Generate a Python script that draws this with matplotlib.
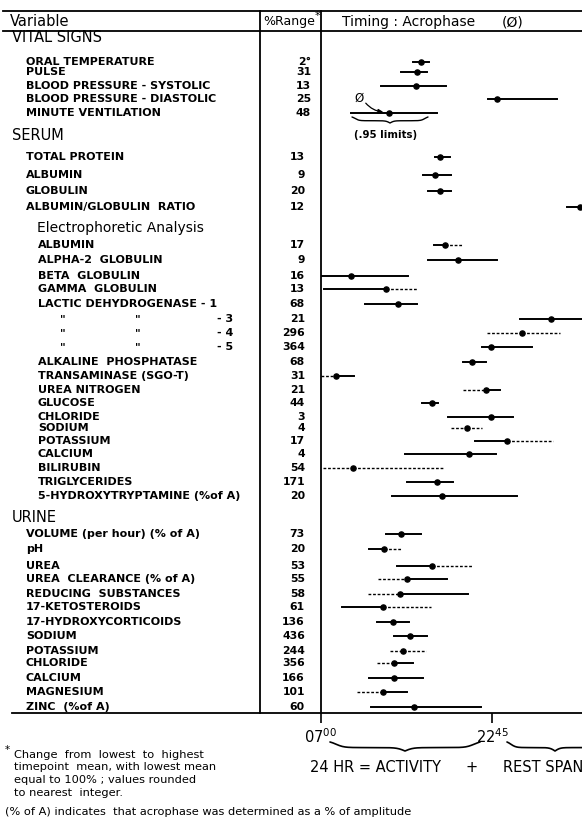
import matplotlib.pyplot as plt
import numpy as np

plt.rcParams['font.family'] = 'DejaVu Sans'

# table rows (headings have no range and no acrophase)
variables = ['VITAL SIGNS', 'ORAL TEMPERATURE', 'PULSE', 'BLOOD PRESSURE - SYSTOLIC',
             'BLOOD PRESSURE - DIASTOLIC', 'MINUTE VENTILATION',
             'SERUM', 'TOTAL PROTEIN', 'ALBUMIN', 'GLOBULIN', 'ALBUMIN/GLOBULIN  RATIO',
             'Electrophoretic Analysis', 'ALBUMIN', 'ALPHA-2  GLOBULIN', 'BETA  GLOBULIN',
             'GAMMA  GLOBULIN', 'LACTIC DEHYDROGENASE - 1', '" " - 3', '" " - 4', '" " - 5',
             'ALKALINE  PHOSPHATASE', 'TRANSAMINASE (SGO-T)', 'UREA NITROGEN', 'GLUCOSE',
             'CHLORIDE', 'SODIUM', 'POTASSIUM', 'CALCIUM', 'BILIRUBIN', 'TRIGLYCERIDES',
             '5-HYDROXYTRYPTAMINE (%of A)',
             'URINE', 'VOLUME (per hour) (% of A)', 'pH', 'UREA', 'UREA  CLEARANCE (% of A)',
             'REDUCING  SUBSTANCES', '17-KETOSTEROIDS', '17-HYDROXYCORTICOIDS', 'SODIUM',
             'POTASSIUM', 'CHLORIDE', 'CALCIUM', 'MAGNESIUM', 'ZINC  (%of A)']

pct_range = ['', '2°', '31', '13', '25', '48',
             '', '13', '9', '20', '12',
             '', '17', '9', '16', '13', '68', '21', '296', '364',
             '68', '31', '21', '44', '3', '4', '17', '4', '54', '171', '20',
             '', '73', '20', '53', '55', '58', '61', '136', '436', '244', '356', '166', '101', '60']

# acrophase and .95 limits, clock hours (values past 24 are after midnight)
nan = np.nan
acrophase = [nan, 16.17, 15.81, 15.72, 23.21, 13.27,
             nan, 17.95, 17.49, 17.95, 30.79,
             nan, 18.41, 19.63, 9.75, 12.99, 14.06, 28.10, 25.44, 22.60,
             20.91, 8.38, 22.14, 17.18, 22.63, 20.46, 24.06, 20.61, 10.00, 17.64, 18.16,
             nan, 14.37, 12.84, 17.18, 14.89, 14.28, 12.75, 13.61, 15.20, 14.52, 13.73, 13.76, 12.69, 15.59]
lim_low = [nan, 15.50, 14.37, 12.53, 22.38, 9.75,
           nan, 17.49, 16.42, 16.88, 29.57,
           nan, 17.40, 16.88, 7.00, 7.34, 11.07, 25.29, 22.29, 21.83,
           20.03, 7.00, 20.09, 16.27, 18.71, 18.93, 21.16, 14.74, 7.18, 14.95, 13.51,
           nan, 12.99, 11.46, 13.97, 12.29, 11.31, 8.93, 12.20, 13.73, 13.36, 12.20, 11.43, 10.30, 11.59]
lim_high = [nan, 16.97, 16.72, 18.50, 28.65, 17.64,
            nan, 18.87, 18.96, 18.96, 31.90,
            nan, 20.09, 23.21, 15.04, 15.87, 15.87, 31.40, 28.96, 26.42,
            22.17, 10.09, 23.45, 17.80, 24.68, 21.83, 28.28, 23.09, 18.31, 19.11, 24.98,
            nan, 16.17, 14.34, 20.91, 18.62, 20.55, 17.09, 15.13, 16.72, 16.63, 15.44, 16.36, 14.95, 21.74]

tick_hours = [7.0, 22.75]
tick_labels = ['07$^{00}$', '22$^{45}$']

# layout (pixels from the top-left corner)
W, H = 582, 819
row_y = [37, 62, 72, 86, 99, 113,
         135, 157, 175, 191, 207,
         228, 245, 260, 276, 289, 304, 319, 333, 347,
         362, 376, 390, 403, 417, 428, 441, 454, 468, 482, 496,
         517, 534, 549, 566, 579, 594, 607, 622, 636, 651, 663, 678, 692, 707]
headings = ['VITAL SIGNS', 'SERUM', 'URINE']
x_col1, x_col2 = 260, 320.7
y_top, y_head, y_bottom = 11, 31, 713
px_per_hour = 10.9
t0, t1 = 7.0, 33.0

# halves of the limit bars that are printed dotted
dotted_side = {12: 'R', 15: 'R', 18: 'LR', 21: 'L', 22: 'L', 25: 'LR', 26: 'R', 28: 'LR',
               33: 'R', 34: 'R', 35: 'L', 36: 'L', 37: 'R', 40: 'LR', 41: 'L', 43: 'L'}


def brace(axis, x0, x1, y, h, lw=1.2):
    # curly brace opening upwards, tip pointing down
    t = np.linspace(0, 0.5, 80)
    b = 38
    half = 1 / (1 + np.exp(-b * (t - 0.04))) + 1 / (1 + np.exp(-b * (t - 0.5)))
    half = (half - half[0]) / (half[-1] - half[0])
    xs = x0 + np.concatenate([t, 1 - t[::-1]]) * (x1 - x0)
    ys = y + np.concatenate([half, half[::-1]]) * h
    axis.plot(xs, ys, color='black', lw=lw, solid_capstyle='round')


fig = plt.figure(figsize=(W / 100, H / 100), dpi=100)

tab = fig.add_axes([0, 0, 1, 1])
tab.set_xlim(0, W)
tab.set_ylim(H, 0)
tab.axis('off')

# rules of the table
lw_rule = 1.3
tab.plot([3, W], [y_top, y_top], color='black', lw=lw_rule)
tab.plot([3, W], [y_head, y_head], color='black', lw=lw_rule)
tab.plot([12, W], [y_bottom, y_bottom], color='black', lw=lw_rule)
tab.plot([x_col1, x_col1], [y_top, y_bottom], color='black', lw=lw_rule)
tab.plot([x_col2, x_col2], [y_top, y_bottom], color='black', lw=lw_rule)

# column headers
tab.text(10, 21, 'Variable', fontsize=10.5, va='center')
tab.text(289, 22, '%Range', fontsize=9, va='center', ha='center')
tab.text(317, 16, '*', fontsize=8, va='center', ha='center')
tab.text(342, 22, 'Timing : Acrophase', fontsize=10, va='center')
tab.text(502, 22, '(Ø)', fontsize=10, va='center')

# row labels and %range
fs_row = 8
electro = False
for i, name in enumerate(variables):
    y = row_y[i]
    if name in headings:
        electro = False
        tab.text(12, y, name, fontsize=10.5, va='center')
        continue
    if name.startswith('Electrophoretic'):
        electro = True
        tab.text(37, y, name, fontsize=10, va='center')
        continue
    x = 38 if electro else 26
    if name.startswith('"'):
        parts = name.split(' ', 2)
        for xp, part in zip([60, 135, 217], parts):
            tab.text(xp, y, part, fontsize=fs_row, fontweight='bold', va='center')
    else:
        tab.text(x, y, name, fontsize=fs_row, fontweight='bold', va='center')
    xr = 311 if i < 6 else 305
    tab.text(xr, y, pct_range[i], fontsize=7.8, fontweight='bold', va='center', ha='right')

# acrophase panel: x in clock hours, y in the same pixel rows as the table
ax = fig.add_axes([x_col2 / W, (H - y_bottom) / H,
                   (t1 - t0) * px_per_hour / W, (y_bottom - y_head) / H])
ax.set_xlim(t0, t1)
ax.set_ylim(y_bottom, y_head)
ax.patch.set_visible(False)
for s in ax.spines.values():
    s.set_visible(False)
ax.set_yticks([])
ax.set_xticks(tick_hours)
ax.set_xticklabels(tick_labels, fontsize=10.5)
ax.tick_params(axis='x', direction='out', length=7, width=1.2, pad=3)

for i in range(len(variables)):
    if np.isnan(acrophase[i]):
        continue
    y = row_y[i]
    side = dotted_side.get(i, '')
    for part, (a, b) in zip('LR', [(lim_low[i], acrophase[i]), (acrophase[i], lim_high[i])]):
        if part in side:
            ax.plot([a, b], [y, y], color='black', lw=1.0, ls=(0, (2, 1.3)))
        else:
            ax.plot([a, b], [y, y], color='black', lw=1.4)
ax.plot(acrophase, row_y, 'o', color='black', ms=3.7)

# key drawn on the minute ventilation row
tab.text(359, 98, 'Ø', fontsize=8.5, ha='center', va='center')
tab.annotate('', xy=(386, 112), xytext=(364, 101),
             arrowprops=dict(arrowstyle='-|>', lw=0.9, color='black',
                             connectionstyle='arc3,rad=0.25', mutation_scale=7))
brace(tab, 352, 428, 117, 6, lw=1.0)
tab.text(386, 135, '(.95 limits)', fontsize=7.3, fontweight='bold', ha='center', va='center')

# 24 hr = activity + rest span
brace(tab, 330, 480, 742, 9)
brace(tab, 507, 603, 742, 9)
tab.text(310, 767, '24 HR = ACTIVITY', fontsize=10.5, va='center')
tab.text(472, 767, '+', fontsize=10.5, va='center', ha='center')
tab.text(503, 767, 'REST SPAN', fontsize=10.5, va='center')

# footnotes
tab.text(5, 750, '*', fontsize=7.5, va='center')
notas = ['Change  from  lowest  to  highest', 'timepoint  mean, with lowest mean',
         'equal to 100% ; values rounded', 'to nearest  integer.']
for k, linha in enumerate(notas):
    tab.text(14, 755 + 12.5 * k, linha, fontsize=8.2, va='center')
tab.text(5, 812, '(% of A) indicates  that acrophase was determined as a % of amplitude',
         fontsize=8.2, va='center')

plt.savefig('out.png', dpi=100)
plt.close()
